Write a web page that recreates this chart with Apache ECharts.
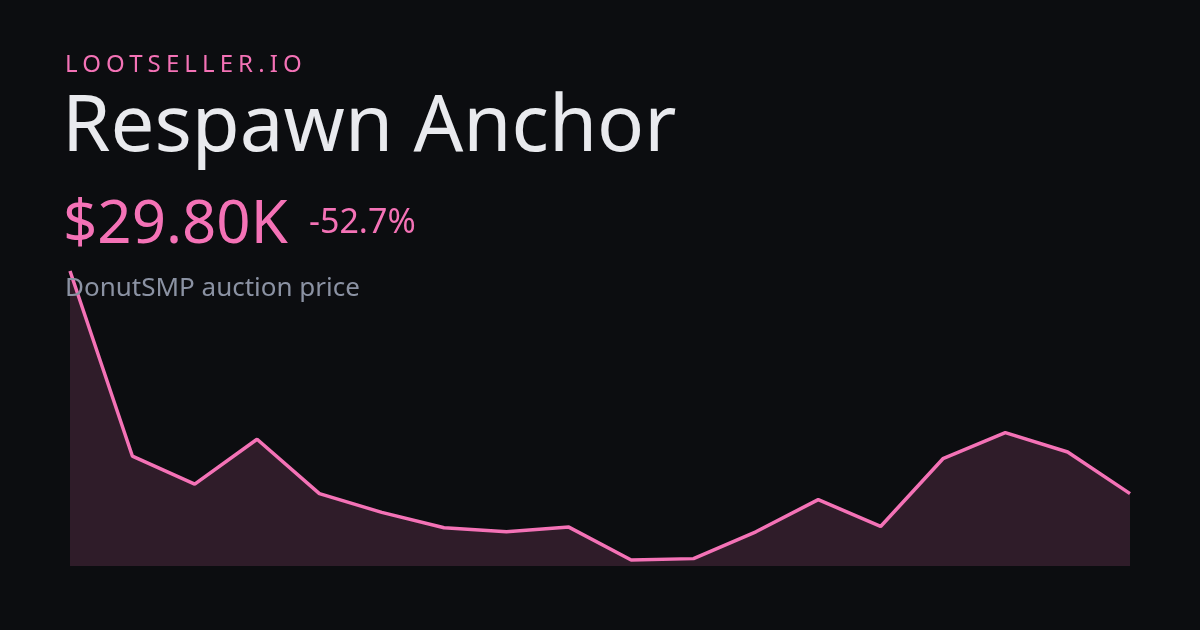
<!DOCTYPE html>
<html>
<head>
<meta charset="utf-8">
<script src="https://cdn.jsdelivr.net/npm/echarts@6/dist/echarts.min.js"></script>
<style>
  html, body { margin: 0; padding: 0; background: #0c0d10; }
  #wrap { position: relative; width: 1200px; height: 630px; overflow: hidden; background: #0c0d10; font-family: "Noto Sans", "Open Sans", sans-serif; }
  #chart { position: absolute; left: 0; top: 0; width: 1200px; height: 630px; }
  .t { position: absolute; white-space: nowrap; line-height: 1; }
  #brand { left: 65px; top: 51px; font-size: 24px; letter-spacing: 5.1px; color: #f472b6; }
  #title { left: 62px; top: 82px; font-size: 78px; color: #e9eaee; }
  #price { left: 63px; top: 190px; font-size: 60px; color: #f472b6; }
  #change { left: 309px; top: 203px; font-size: 34px; color: #f472b6; }
  #sub { left: 65px; top: 273px; font-size: 26px; color: #8b92a3; }
</style>
</head>
<body>
<div id="wrap">
  <div id="chart"></div>
  <div class="t" id="brand"></div>
  <div class="t" id="title"></div>
  <div class="t" id="price"></div>
  <div class="t" id="change"></div>
  <div class="t" id="sub"></div>
</div>
<script>
const brandText = "LOOTSELLER.IO";
const titleText = "Respawn Anchor";
const priceText = "$29.80K";
const changeText = "-52.7%";
const subText = "DonutSMP auction price";

// price points (thousands of $), oldest to newest
const points = [1, 2, 3, 4, 5, 6, 7, 8, 9, 10, 11, 12, 13, 14, 15, 16, 17, 18];
const prices = [63.0, 35.4, 31.2, 37.9, 29.8, 27.0, 24.7, 24.1, 24.8, 19.9, 20.1, 24.1, 28.9, 24.9, 35.0, 38.9, 36.0, 29.8];

document.getElementById('brand').textContent = brandText;
document.getElementById('title').textContent = titleText;
document.getElementById('price').textContent = priceText;
document.getElementById('change').textContent = changeText;
document.getElementById('sub').textContent = subText;

const chart = echarts.init(document.getElementById('chart'), null, { renderer: 'canvas' });
chart.setOption({
  backgroundColor: 'transparent',
  animation: false,
  grid: { left: 70, right: 70, top: 271, bottom: 64 },
  xAxis: {
    type: 'category',
    data: points,
    boundaryGap: false,
    show: false
  },
  yAxis: {
    type: 'value',
    min: 19.0,
    max: 63.0,
    show: false
  },
  series: [{
    type: 'line',
    data: prices,
    symbol: 'none',
    lineStyle: { color: '#f472b6', width: 3.5 },
    areaStyle: { color: 'rgba(244,114,182,0.22)', origin: 'start' }
  }]
});
</script>
</body>
</html>
